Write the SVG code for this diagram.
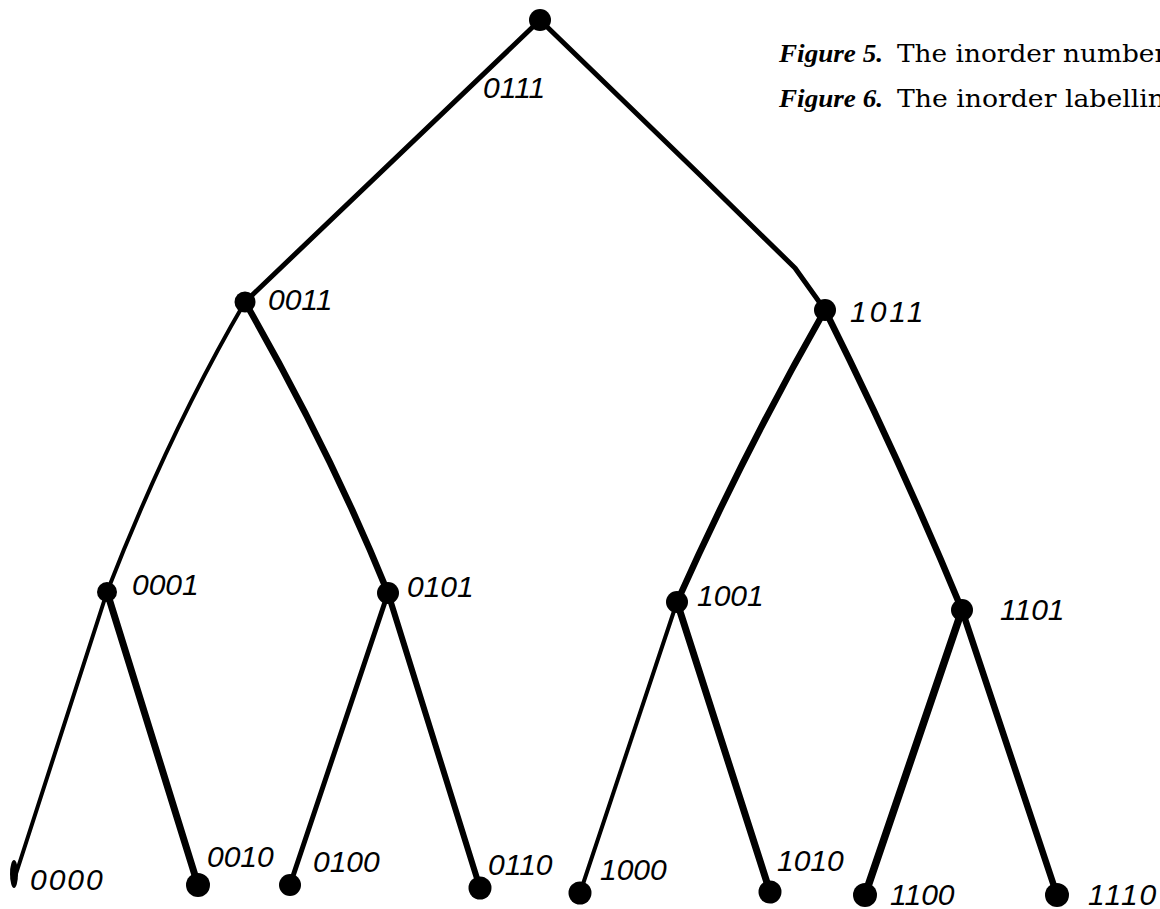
<svg xmlns="http://www.w3.org/2000/svg" width="1160" height="909" viewBox="0 0 1160 909">
<style>
.e{fill:none;stroke:#000;stroke-linecap:round;stroke-linejoin:round}
.n{fill:#000}
.l{font-family:"Liberation Sans",Arial,sans-serif;font-style:italic;font-size:30px;fill:#000}
.cap{font-family:"DejaVu Serif","Liberation Serif",serif;font-size:25px;fill:#000}
.fig{font-family:"Liberation Serif","Times New Roman",serif;font-size:26px;font-weight:bold;font-style:italic;fill:#000}
</style>
<rect width="1160" height="909" fill="#fff"/>
<g id="caption">
<text class="fig" x="779" y="62" textLength="104" lengthAdjust="spacingAndGlyphs">Figure 5.</text>
<text class="cap" x="897" y="62" textLength="270" lengthAdjust="spacingAndGlyphs">The inorder number</text>
<text class="fig" x="779" y="107" textLength="104" lengthAdjust="spacingAndGlyphs">Figure 6.</text>
<text class="cap" x="897" y="107" textLength="268" lengthAdjust="spacingAndGlyphs">The inorder labellin</text>
</g>
<g id="connectors">
<path class="e" stroke-width="5" d="M540 20 L245 302"/>
<path class="e" stroke-width="5" d="M540 20 L700 175 L795 268 L825 310"/>
<path class="e" stroke-width="4" d="M245 302 Q170 430 107 592"/>
<path class="e" stroke-width="6.5" d="M245 302 Q330 450 388 593"/>
<path class="e" stroke-width="6.5" d="M825 310 Q745 450 677 602"/>
<path class="e" stroke-width="6.5" d="M825 310 Q900 460 962 610"/>
<path class="e" stroke-width="4" d="M107 592 L14 880"/>
<path class="e" stroke-width="7" d="M107 592 L198 885"/>
<path class="e" stroke-width="5" d="M388 593 L290 885"/>
<path class="e" stroke-width="6" d="M388 593 L480 888"/>
<path class="e" stroke-width="4" d="M677 602 L580 893"/>
<path class="e" stroke-width="7" d="M677 602 L770 892"/>
<path class="e" stroke-width="7.5" d="M962 610 L865 895"/>
<path class="e" stroke-width="6.5" d="M962 610 L1057 895"/>
</g>
<g id="n0111"><circle class="n" cx="540" cy="20" r="11"/><text class="l" x="483" y="98">0111</text></g>
<g id="n0011"><circle class="n" cx="245" cy="302" r="10.5"/><text class="l" x="268" y="310">0011</text></g>
<g id="n1011"><circle class="n" cx="825" cy="310" r="11"/><text class="l" x="850" y="322" letter-spacing="3">1011</text></g>
<g id="n0001"><circle class="n" cx="107" cy="592" r="10"/><text class="l" x="132" y="595">0001</text></g>
<g id="n0101"><circle class="n" cx="388" cy="593" r="11"/><text class="l" x="407" y="597">0101</text></g>
<g id="n1001"><circle class="n" cx="677" cy="602" r="11"/><text class="l" x="697" y="606">1001</text></g>
<g id="n1101"><circle class="n" cx="962" cy="610" r="11"/><text class="l" x="1000" y="620">1101</text></g>
<g id="n0000"><ellipse class="n" cx="14" cy="874" rx="4" ry="14"/><text class="l" x="30" y="890" letter-spacing="2">0000</text></g>
<g id="n0010"><circle class="n" cx="198" cy="885" r="12"/><text class="l" x="207" y="867" font-size="26">0010</text></g>
<g id="n0100"><circle class="n" cx="290" cy="885" r="11"/><text class="l" x="313" y="872">0100</text></g>
<g id="n0110"><circle class="n" cx="480" cy="888" r="11.5"/><text class="l" x="488" y="875">0110</text></g>
<g id="n1000"><circle class="n" cx="580" cy="893" r="11.5"/><text class="l" x="600" y="880">1000</text></g>
<g id="n1010"><circle class="n" cx="770" cy="892" r="11.5"/><text class="l" x="777" y="871" font-size="27">1010</text></g>
<g id="n1100"><circle class="n" cx="865" cy="895" r="12"/><text class="l" x="890" y="905">1100</text></g>
<g id="n1110"><circle class="n" cx="1057" cy="895" r="12"/><text class="l" x="1088" y="905" letter-spacing="2">1110</text></g>
</svg>
